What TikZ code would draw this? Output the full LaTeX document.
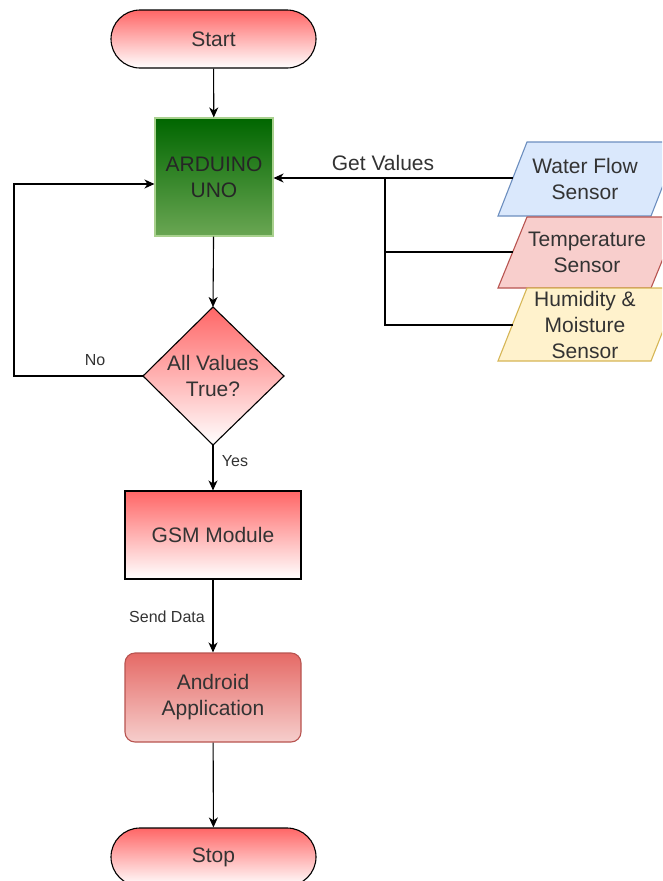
\documentclass[tikz,border=0pt]{standalone}
\usepackage{fontspec}
\setmainfont{Liberation Sans}
\usetikzlibrary{arrows.meta,positioning}
\definecolor{tx}{HTML}{333333}
\definecolor{redtop}{HTML}{FF6666}
\definecolor{andtop}{HTML}{E56A66}
\definecolor{andbot}{HTML}{F6CECC}
\definecolor{andbd}{HTML}{B85450}
\definecolor{grtop}{HTML}{006600}
\definecolor{grbot}{HTML}{6AA653}
\definecolor{grbd}{HTML}{A9D18E}
\definecolor{wfill}{HTML}{DAE8FC}
\definecolor{wbd}{HTML}{6C8EBF}
\definecolor{tfill}{HTML}{F8CECC}
\definecolor{tbd}{HTML}{B85450}
\definecolor{hfill}{HTML}{FFF2CC}
\definecolor{hbd}{HTML}{D6B656}
\tikzset{
  big/.style={font=\fontsize{21}{26}\selectfont, text=tx, align=center},
  small/.style={font=\fontsize{16}{19}\selectfont, text=tx},
  term/.style={big, draw=black, line width=1.1pt, rounded corners=29pt, minimum width=205pt, minimum height=58pt, top color=redtop, bottom color=white},
  procbox/.style={big, draw=black, line width=1.1pt, minimum width=176pt, minimum height=88pt, top color=redtop, bottom color=white},
  arr/.style={-{Stealth[length=10pt,width=9pt,inset=3pt]}, line width=1.1pt, draw=black},
  ln/.style={line width=1.1pt, draw=black},
}
\begin{document}
\begin{tikzpicture}[x=1pt,y=-1pt]
\useasboundingbox (0,0) rectangle (662,881);
\clip (0,0) rectangle (662,881);
\fill[white] (0,0) rectangle (662,881);

% terminals and boxes
\node[term] (start) at (213.5,39) {Start};
\node[big, draw=grbd, line width=1.1pt, minimum width=118pt, minimum height=118pt, top color=grtop, bottom color=grbot, text=black!85] (ard) at (214,177) {ARDUINO\\UNO};

% decision diamond
\coordinate (dtop) at (213,307);
\coordinate (dright) at (284,376);
\coordinate (dbot) at (213,445);
\coordinate (dleft) at (143,376);
\shade[top color=redtop, bottom color=white, draw=black, line width=1.1pt] (dtop) -- (dright) -- (dbot) -- (dleft) -- cycle;
\node[big] (dec) at (213,376) {All Values\\True?};

\node[procbox] (gsm) at (213,535) {GSM Module};
\node[big, draw=andbd, line width=1.1pt, rounded corners=10pt, minimum width=176pt, minimum height=89pt, top color=andtop, bottom color=andbot] (app) at (213,697.5) {Android\\Application};
\node[term] (stop) at (213.5,857) {Stop};

% sensors (parallelograms)
\shade[top color=wfill, bottom color=wfill, draw=wbd, line width=1.1pt] (498,216) -- (527,142) -- (680,142) -- (651,216) -- cycle;
\node[big] (wf) at (585,179) {Water Flow\\Sensor};
\coordinate (wfin) at (512.5,178);
\shade[top color=tfill, bottom color=tfill, draw=tbd, line width=1.1pt] (498,288) -- (527,217) -- (680,217) -- (651,288) -- cycle;
\node[big] (temp) at (587,252.5) {Temperature\\Sensor};
\coordinate (tin) at (512.5,252);
\shade[top color=hfill, bottom color=hfill, draw=hbd, line width=1.1pt] (498,361) -- (527,288) -- (680,288) -- (651,361) -- cycle;
\node[big] (hum) at (585,325) {Humidity \&\\Moisture\\Sensor};
\coordinate (hin) at (512.5,325);

% connectors
\draw[arr] (start) -- (ard);
\coordinate (j) at (385,178);
\draw[arr] (wfin) -- (ard.east |- wfin);
\draw[ln] (j) -- (j |- hin) -- (hin);
\draw[ln] (j |- tin) -- (tin);
\node[big] (getv) at (383,163) {Get Values};

\draw[arr] (ard) -- (dtop);
\coordinate (noc) at (14,376);
\draw[arr] (dleft) -- (noc) |- ([yshift=-7pt]ard.west);
\node[small] (nolab) at (95,360) {No};

\draw[arr] (dbot) -- (gsm);
\node[small] (yeslab) at (235,461) {Yes};

\draw[arr] (gsm) -- (app);
\node[small] (sendlab) at (167,617) {Send Data};

\draw[arr] (app) -- (stop);
\end{tikzpicture}
\end{document}
